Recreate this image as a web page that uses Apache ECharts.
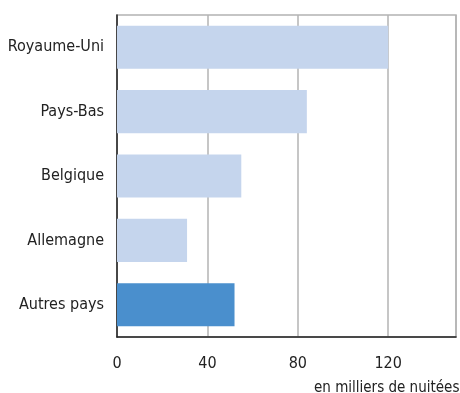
<!DOCTYPE html>
<html><head><meta charset="utf-8">
<script src="https://cdn.jsdelivr.net/npm/echarts@6/dist/echarts.min.js"></script>
<style>html,body{margin:0;padding:0;background:#fff}#c{width:460px;height:393px}</style>
</head><body><div id="c"></div>
<script>
const categories = ['Royaume-Uni', 'Pays-Bas', 'Belgique', 'Allemagne', 'Autres pays'];
const values = [120, 84, 55, 31, 52];
const barColors = ['#c5d5ed', '#c5d5ed', '#c5d5ed', '#c5d5ed', '#4a8fcd'];
const xTicks = [0, 40, 80, 120];
const axisTitle = 'en milliers de nuitées';

const FONT = '"DejaVu Sans Condensed", "Liberation Sans", sans-serif';
const chart = echarts.init(document.getElementById('c'), null, {renderer: 'canvas'});
chart.setOption({
  animation: false,
  grid: {left: 117, right: 4, top: 15, bottom: 56, show: true, borderColor: '#b3b3b3', borderWidth: 1.5, containLabel: false, outerBoundsMode: 'none'},
  xAxis: {
    type: 'value', min: 0, max: 150, interval: 40,
    axisLine: {show: true, lineStyle: {color: '#222', width: 1.5}},
    axisTick: {show: false},
    splitLine: {show: true, lineStyle: {color: '#b3b3b3', width: 1.5}},
    axisLabel: {
      fontFamily: FONT, fontSize: 16, color: '#222', margin: 19,
      formatter: v => xTicks.includes(v) ? String(v) : ''
    }
  },
  yAxis: {
    type: 'category', data: categories, inverse: true,
    axisLine: {show: true, lineStyle: {color: '#222', width: 1.5}},
    axisTick: {show: false},
    axisLabel: {fontFamily: FONT, fontSize: 16, color: '#222', margin: 13}
  },
  series: [{
    type: 'bar',
    data: values.map((v, i) => ({value: v, itemStyle: {color: barColors[i]}})),
    barCategoryGap: '33%'
  }],
  graphic: [{
    type: 'text', left: 314, top: 381,
    style: {text: axisTitle, font: '15px ' + FONT, fill: '#222'}
  }]
});
</script></body></html>
